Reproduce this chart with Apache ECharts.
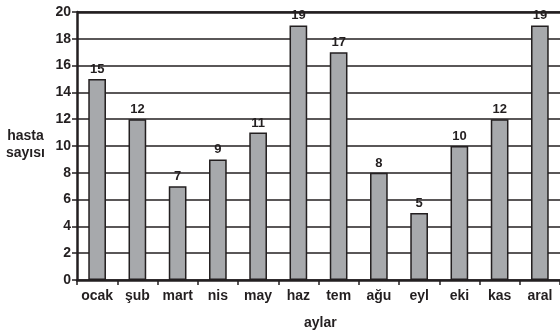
<!DOCTYPE html>
<html><head><meta charset="utf-8">
<script src="https://cdn.jsdelivr.net/npm/echarts@6/dist/echarts.min.js"></script>
<style>html,body{margin:0;padding:0;background:#fff}#c{width:560px;height:332px}</style>
</head><body><div id="c"></div>
<script>
const categories = ['ocak','şub','mart','nis','may','haz','tem','ağu','eyl','eki','kas','aral'];
const values = [15,12,7,9,11,19,17,8,5,10,12,19];
const yTicks = [0,2,4,6,8,10,12,14,16,18,20];
const yTitle = ['hasta','sayısı'];
const xTitle = 'aylar';
const ink = '#231f20';
const ff = 'Liberation Sans, Arial, sans-serif';
const chart = echarts.init(document.getElementById('c'), null, {renderer:'canvas'});
chart.setOption({
  animation:false,
  textStyle:{fontFamily:ff},
  grid:{left:77, right:-5, top:12, bottom:52, containLabel:false},
  xAxis:{type:'category', data:categories,
    axisLine:{lineStyle:{color:ink,width:2.5}},
    axisTick:{show:true,length:5,interval:0,lineStyle:{color:ink,width:1.5},alignWithLabel:false},
    axisLabel:{interval:0,hideOverlap:false,color:ink,fontWeight:'bold',fontSize:14,margin:9,fontFamily:ff}},
  yAxis:{type:'value', min:yTicks[0], max:yTicks[yTicks.length-1], interval:2,
    axisLine:{show:true,lineStyle:{color:ink,width:2.5}},
    axisTick:{show:true,length:5,lineStyle:{color:ink,width:1.5}},
    axisLabel:{color:ink,fontWeight:'bold',fontSize:14,margin:6,fontFamily:ff},
    splitLine:{show:true,lineStyle:{color:ink,width:1.6}}},
  series:[{type:'bar', data:values, barWidth:'44%',
    itemStyle:{color:'#a7a9ac',borderColor:ink,borderWidth:1.5},
    label:{show:true,position:'top',distance:3,color:ink,fontWeight:'bold',fontSize:13,fontFamily:ff},
    markLine:{silent:true,symbol:'none',label:{show:false},lineStyle:{color:ink,width:2.6,type:'solid'},data:[{yAxis:yTicks[yTicks.length-1]}]}}],
  graphic:[
    {type:'text',left:6,top:128,style:{text:yTitle.join('\n'),fill:ink,font:'bold 14px Liberation Sans, Arial, sans-serif',lineHeight:17,textAlign:'center'}},
    {type:'text',left:304,top:316,style:{text:xTitle,fill:ink,font:'bold 14px Liberation Sans, Arial, sans-serif'}}
  ]
});
</script></body></html>
